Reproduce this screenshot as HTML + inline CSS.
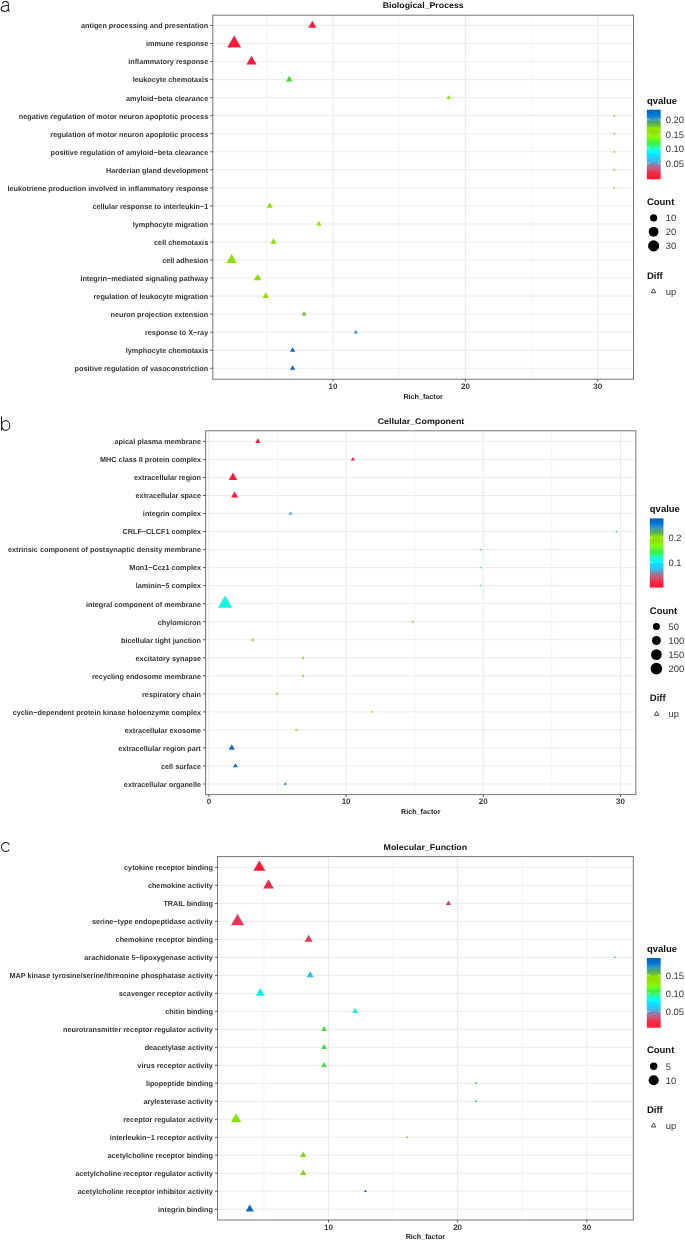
<!DOCTYPE html>
<html><head><meta charset="utf-8"><style>
html,body{margin:0;padding:0;background:#fff;}
body{width:685px;height:1241px;overflow:hidden;}
svg{display:block;will-change:transform;}
text{font-family:"Liberation Sans", sans-serif;text-rendering:geometricPrecision;}
.yl{font-size:7.27px;font-weight:bold;fill:#333;}
.xl{font-size:8.0px;font-weight:bold;fill:#3a3a3a;}
.rf{font-size:7.2px;font-weight:bold;fill:#222;}
.ti{font-size:8.2px;font-weight:bold;fill:#111;}
.let{font-size:20px;fill:#111;stroke:#fff;stroke-width:0.35px;}
.lt{font-size:9.5px;font-weight:bold;fill:#111;}
.ll{font-size:9.4px;fill:#333;}
</style></head><body>
<svg width="685" height="1241" viewBox="0 0 685 1241">
<rect width="685" height="1241" fill="#fff"/>
<defs>
<linearGradient id="qg" x1="0" y1="0" x2="0" y2="1"><stop offset="0.0" stop-color="#0060b0"/><stop offset="0.08" stop-color="#0078e0"/><stop offset="0.12" stop-color="#2890c8"/><stop offset="0.15" stop-color="#40a0a0"/><stop offset="0.19" stop-color="#50a860"/><stop offset="0.235" stop-color="#70c830"/><stop offset="0.26" stop-color="#90e800"/><stop offset="0.32" stop-color="#90e000"/><stop offset="0.4" stop-color="#80ff10"/><stop offset="0.45" stop-color="#50f830"/><stop offset="0.48" stop-color="#40f040"/><stop offset="0.52" stop-color="#30f880"/><stop offset="0.56" stop-color="#20ffc0"/><stop offset="0.61" stop-color="#00ffff"/><stop offset="0.65" stop-color="#10e0ff"/><stop offset="0.69" stop-color="#20d0ff"/><stop offset="0.74" stop-color="#40b8f0"/><stop offset="0.77" stop-color="#6a98c0"/><stop offset="0.79" stop-color="#8880a8"/><stop offset="0.84" stop-color="#c06080"/><stop offset="0.88" stop-color="#e04060"/><stop offset="0.92" stop-color="#f82840"/><stop offset="0.97" stop-color="#ff1a38"/><stop offset="1.0" stop-color="#ff1a38"/></linearGradient>
</defs>
<line x1="266.88" y1="15.2" x2="266.88" y2="379.2" stroke="#f3f3f3" stroke-width="0.9"/>
<line x1="399.22" y1="15.2" x2="399.22" y2="379.2" stroke="#f3f3f3" stroke-width="0.9"/>
<line x1="531.58" y1="15.2" x2="531.58" y2="379.2" stroke="#f3f3f3" stroke-width="0.9"/>
<line x1="333.05" y1="15.2" x2="333.05" y2="379.2" stroke="#ebebeb" stroke-width="1"/>
<line x1="465.40" y1="15.2" x2="465.40" y2="379.2" stroke="#ebebeb" stroke-width="1"/>
<line x1="597.75" y1="15.2" x2="597.75" y2="379.2" stroke="#ebebeb" stroke-width="1"/>
<line x1="212.8" y1="25.50" x2="633.5" y2="25.50" stroke="#ebebeb" stroke-width="1"/>
<line x1="212.8" y1="43.54" x2="633.5" y2="43.54" stroke="#ebebeb" stroke-width="1"/>
<line x1="212.8" y1="61.58" x2="633.5" y2="61.58" stroke="#ebebeb" stroke-width="1"/>
<line x1="212.8" y1="79.62" x2="633.5" y2="79.62" stroke="#ebebeb" stroke-width="1"/>
<line x1="212.8" y1="97.66" x2="633.5" y2="97.66" stroke="#ebebeb" stroke-width="1"/>
<line x1="212.8" y1="115.70" x2="633.5" y2="115.70" stroke="#ebebeb" stroke-width="1"/>
<line x1="212.8" y1="133.74" x2="633.5" y2="133.74" stroke="#ebebeb" stroke-width="1"/>
<line x1="212.8" y1="151.78" x2="633.5" y2="151.78" stroke="#ebebeb" stroke-width="1"/>
<line x1="212.8" y1="169.82" x2="633.5" y2="169.82" stroke="#ebebeb" stroke-width="1"/>
<line x1="212.8" y1="187.86" x2="633.5" y2="187.86" stroke="#ebebeb" stroke-width="1"/>
<line x1="212.8" y1="205.90" x2="633.5" y2="205.90" stroke="#ebebeb" stroke-width="1"/>
<line x1="212.8" y1="223.94" x2="633.5" y2="223.94" stroke="#ebebeb" stroke-width="1"/>
<line x1="212.8" y1="241.98" x2="633.5" y2="241.98" stroke="#ebebeb" stroke-width="1"/>
<line x1="212.8" y1="260.02" x2="633.5" y2="260.02" stroke="#ebebeb" stroke-width="1"/>
<line x1="212.8" y1="278.06" x2="633.5" y2="278.06" stroke="#ebebeb" stroke-width="1"/>
<line x1="212.8" y1="296.10" x2="633.5" y2="296.10" stroke="#ebebeb" stroke-width="1"/>
<line x1="212.8" y1="314.14" x2="633.5" y2="314.14" stroke="#ebebeb" stroke-width="1"/>
<line x1="212.8" y1="332.18" x2="633.5" y2="332.18" stroke="#ebebeb" stroke-width="1"/>
<line x1="212.8" y1="350.22" x2="633.5" y2="350.22" stroke="#ebebeb" stroke-width="1"/>
<line x1="212.8" y1="368.26" x2="633.5" y2="368.26" stroke="#ebebeb" stroke-width="1"/>
<polygon points="312.40,20.77 316.50,27.87 308.30,27.87" fill="#ff1a3a"/>
<polygon points="234.20,35.51 241.15,47.55 227.25,47.55" fill="#ff1a3a"/>
<polygon points="251.50,55.69 256.60,64.52 246.40,64.52" fill="#ff1a3a"/>
<polygon points="289.30,75.81 292.60,81.53 286.00,81.53" fill="#3ddc3d"/>
<polygon points="448.80,95.12 451.00,98.93 446.60,98.93" fill="#7ff000"/>
<polygon points="614.30,114.20 615.60,116.45 613.00,116.45" fill="#8cd820"/>
<polygon points="614.30,132.24 615.60,134.49 613.00,134.49" fill="#8cd820"/>
<polygon points="614.30,150.28 615.60,152.53 613.00,152.53" fill="#8cd820"/>
<polygon points="614.30,168.32 615.60,170.57 613.00,170.57" fill="#8cd820"/>
<polygon points="614.30,186.36 615.60,188.61 613.00,188.61" fill="#8cd820"/>
<polygon points="269.70,202.38 272.75,207.66 266.65,207.66" fill="#8fe000"/>
<polygon points="318.90,220.88 321.55,225.47 316.25,225.47" fill="#8fe000"/>
<polygon points="273.50,238.34 276.65,243.80 270.35,243.80" fill="#8fe000"/>
<polygon points="231.70,254.07 236.85,262.99 226.55,262.99" fill="#90e000"/>
<polygon points="257.60,273.73 261.35,280.23 253.85,280.23" fill="#8fe000"/>
<polygon points="265.80,292.46 268.95,297.92 262.65,297.92" fill="#8fe000"/>
<polygon points="304.10,311.20 306.65,315.61 301.55,315.61" fill="#6cc830"/>
<polygon points="355.80,329.64 358.00,333.45 353.60,333.45" fill="#40a0a0"/>
<polygon points="292.60,347.16 295.25,351.75 289.95,351.75" fill="#1068c0"/>
<polygon points="292.60,365.20 295.25,369.79 289.95,369.79" fill="#1068c0"/>
<rect x="212.8" y="15.2" width="420.70" height="364.00" fill="none" stroke="#767676" stroke-width="1"/>
<line x1="210.20" y1="25.50" x2="212.8" y2="25.50" stroke="#333" stroke-width="0.8"/>
<text x="208.20" y="28.35" text-anchor="end" class="yl">antigen processing and presentation</text>
<line x1="210.20" y1="43.54" x2="212.8" y2="43.54" stroke="#333" stroke-width="0.8"/>
<text x="208.20" y="46.39" text-anchor="end" class="yl">immune response</text>
<line x1="210.20" y1="61.58" x2="212.8" y2="61.58" stroke="#333" stroke-width="0.8"/>
<text x="208.20" y="64.43" text-anchor="end" class="yl">inflammatory response</text>
<line x1="210.20" y1="79.62" x2="212.8" y2="79.62" stroke="#333" stroke-width="0.8"/>
<text x="208.20" y="82.47" text-anchor="end" class="yl">leukocyte chemotaxis</text>
<line x1="210.20" y1="97.66" x2="212.8" y2="97.66" stroke="#333" stroke-width="0.8"/>
<text x="208.20" y="100.51" text-anchor="end" class="yl">amyloid−beta clearance</text>
<line x1="210.20" y1="115.70" x2="212.8" y2="115.70" stroke="#333" stroke-width="0.8"/>
<text x="208.20" y="118.55" text-anchor="end" class="yl">negative regulation of motor neuron apoptotic process</text>
<line x1="210.20" y1="133.74" x2="212.8" y2="133.74" stroke="#333" stroke-width="0.8"/>
<text x="208.20" y="136.59" text-anchor="end" class="yl">regulation of motor neuron apoptotic process</text>
<line x1="210.20" y1="151.78" x2="212.8" y2="151.78" stroke="#333" stroke-width="0.8"/>
<text x="208.20" y="154.63" text-anchor="end" class="yl">positive regulation of amyloid−beta clearance</text>
<line x1="210.20" y1="169.82" x2="212.8" y2="169.82" stroke="#333" stroke-width="0.8"/>
<text x="208.20" y="172.67" text-anchor="end" class="yl">Harderian gland development</text>
<line x1="210.20" y1="187.86" x2="212.8" y2="187.86" stroke="#333" stroke-width="0.8"/>
<text x="208.20" y="190.71" text-anchor="end" class="yl">leukotriene production involved in inflammatory response</text>
<line x1="210.20" y1="205.90" x2="212.8" y2="205.90" stroke="#333" stroke-width="0.8"/>
<text x="208.20" y="208.75" text-anchor="end" class="yl">cellular response to interleukin−1</text>
<line x1="210.20" y1="223.94" x2="212.8" y2="223.94" stroke="#333" stroke-width="0.8"/>
<text x="208.20" y="226.79" text-anchor="end" class="yl">lymphocyte migration</text>
<line x1="210.20" y1="241.98" x2="212.8" y2="241.98" stroke="#333" stroke-width="0.8"/>
<text x="208.20" y="244.83" text-anchor="end" class="yl">cell chemotaxis</text>
<line x1="210.20" y1="260.02" x2="212.8" y2="260.02" stroke="#333" stroke-width="0.8"/>
<text x="208.20" y="262.87" text-anchor="end" class="yl">cell adhesion</text>
<line x1="210.20" y1="278.06" x2="212.8" y2="278.06" stroke="#333" stroke-width="0.8"/>
<text x="208.20" y="280.91" text-anchor="end" class="yl">integrin−mediated signaling pathway</text>
<line x1="210.20" y1="296.10" x2="212.8" y2="296.10" stroke="#333" stroke-width="0.8"/>
<text x="208.20" y="298.95" text-anchor="end" class="yl">regulation of leukocyte migration</text>
<line x1="210.20" y1="314.14" x2="212.8" y2="314.14" stroke="#333" stroke-width="0.8"/>
<text x="208.20" y="316.99" text-anchor="end" class="yl">neuron projection extension</text>
<line x1="210.20" y1="332.18" x2="212.8" y2="332.18" stroke="#333" stroke-width="0.8"/>
<text x="208.20" y="335.03" text-anchor="end" class="yl">response to X−ray</text>
<line x1="210.20" y1="350.22" x2="212.8" y2="350.22" stroke="#333" stroke-width="0.8"/>
<text x="208.20" y="353.07" text-anchor="end" class="yl">lymphocyte chemotaxis</text>
<line x1="210.20" y1="368.26" x2="212.8" y2="368.26" stroke="#333" stroke-width="0.8"/>
<text x="208.20" y="371.11" text-anchor="end" class="yl">positive regulation of vasoconstriction</text>
<line x1="333.05" y1="379.2" x2="333.05" y2="381.60" stroke="#333" stroke-width="0.8"/>
<text x="333.05" y="388.8" text-anchor="middle" class="xl">10</text>
<line x1="465.40" y1="379.2" x2="465.40" y2="381.60" stroke="#333" stroke-width="0.8"/>
<text x="465.40" y="388.8" text-anchor="middle" class="xl">20</text>
<line x1="597.75" y1="379.2" x2="597.75" y2="381.60" stroke="#333" stroke-width="0.8"/>
<text x="597.75" y="388.8" text-anchor="middle" class="xl">30</text>
<text x="423.15" y="398.8" text-anchor="middle" class="rf">Rich_factor</text>
<text x="382.70" y="7.7" textLength="81.0" lengthAdjust="spacingAndGlyphs" class="ti">Biological_Process</text>
<path fill="none" stroke="#1a1a1a" stroke-width="1.05" stroke-linecap="butt" d="M2.2,3.5 C2.8,1.9 4.2,1.4 5.4,1.4 C7.3,1.4 8.35,2.2 8.35,4 L8.35,9.6 C8.35,10.4 8.8,11.1 9.9,11.2 M8.35,5.3 C6.5,5.9 4.2,5.8 2.8,6.4 C1.6,6.9 1.1,7.7 1.1,8.7 C1.1,10.3 2.5,11.3 4.3,11.3 C6.5,11.3 8.35,10.1 8.35,8.2"/>
<text x="646.9" y="103.6" class="lt">qvalue</text>
<rect x="646.9" y="109.7" width="13.80" height="69.60" fill="url(#qg)"/>
<line x1="646.9" y1="119.8" x2="649.70" y2="119.8" stroke="#fff" stroke-width="0.6" stroke-opacity="0.8"/>
<line x1="657.90" y1="119.8" x2="660.7" y2="119.8" stroke="#fff" stroke-width="0.6" stroke-opacity="0.8"/>
<text x="665.7" y="123.20" class="ll">0.20</text>
<line x1="646.9" y1="134.2" x2="649.70" y2="134.2" stroke="#fff" stroke-width="0.6" stroke-opacity="0.8"/>
<line x1="657.90" y1="134.2" x2="660.7" y2="134.2" stroke="#fff" stroke-width="0.6" stroke-opacity="0.8"/>
<text x="665.7" y="137.60" class="ll">0.15</text>
<line x1="646.9" y1="148.5" x2="649.70" y2="148.5" stroke="#fff" stroke-width="0.6" stroke-opacity="0.8"/>
<line x1="657.90" y1="148.5" x2="660.7" y2="148.5" stroke="#fff" stroke-width="0.6" stroke-opacity="0.8"/>
<text x="665.7" y="151.90" class="ll">0.10</text>
<line x1="646.9" y1="163.4" x2="649.70" y2="163.4" stroke="#fff" stroke-width="0.6" stroke-opacity="0.8"/>
<line x1="657.90" y1="163.4" x2="660.7" y2="163.4" stroke="#fff" stroke-width="0.6" stroke-opacity="0.8"/>
<text x="665.7" y="166.80" class="ll">0.05</text>
<text x="646.9" y="204.6" class="lt">Count</text>
<circle cx="653.6" cy="217.9" r="3.55" fill="#000"/>
<text x="665.7" y="221.30" class="ll">10</text>
<circle cx="653.6" cy="231.8" r="4.90" fill="#000"/>
<text x="665.7" y="235.20" class="ll">20</text>
<circle cx="653.6" cy="245.9" r="5.55" fill="#000"/>
<text x="665.7" y="249.30" class="ll">30</text>
<text x="646.9" y="278.7" class="lt">Diff</text>
<polygon points="653.60,288.80 655.85,292.70 651.35,292.70" fill="none" stroke="#111" stroke-width="0.75"/>
<text x="665.7" y="294.60" class="ll">up</text>
<line x1="277.50" y1="430.8" x2="277.50" y2="794.6" stroke="#f3f3f3" stroke-width="0.9"/>
<line x1="414.70" y1="430.8" x2="414.70" y2="794.6" stroke="#f3f3f3" stroke-width="0.9"/>
<line x1="551.90" y1="430.8" x2="551.90" y2="794.6" stroke="#f3f3f3" stroke-width="0.9"/>
<line x1="208.90" y1="430.8" x2="208.90" y2="794.6" stroke="#ebebeb" stroke-width="1"/>
<line x1="346.10" y1="430.8" x2="346.10" y2="794.6" stroke="#ebebeb" stroke-width="1"/>
<line x1="483.30" y1="430.8" x2="483.30" y2="794.6" stroke="#ebebeb" stroke-width="1"/>
<line x1="620.50" y1="430.8" x2="620.50" y2="794.6" stroke="#ebebeb" stroke-width="1"/>
<line x1="205.6" y1="441.40" x2="635.9" y2="441.40" stroke="#ebebeb" stroke-width="1"/>
<line x1="205.6" y1="459.43" x2="635.9" y2="459.43" stroke="#ebebeb" stroke-width="1"/>
<line x1="205.6" y1="477.46" x2="635.9" y2="477.46" stroke="#ebebeb" stroke-width="1"/>
<line x1="205.6" y1="495.49" x2="635.9" y2="495.49" stroke="#ebebeb" stroke-width="1"/>
<line x1="205.6" y1="513.52" x2="635.9" y2="513.52" stroke="#ebebeb" stroke-width="1"/>
<line x1="205.6" y1="531.55" x2="635.9" y2="531.55" stroke="#ebebeb" stroke-width="1"/>
<line x1="205.6" y1="549.58" x2="635.9" y2="549.58" stroke="#ebebeb" stroke-width="1"/>
<line x1="205.6" y1="567.61" x2="635.9" y2="567.61" stroke="#ebebeb" stroke-width="1"/>
<line x1="205.6" y1="585.64" x2="635.9" y2="585.64" stroke="#ebebeb" stroke-width="1"/>
<line x1="205.6" y1="603.67" x2="635.9" y2="603.67" stroke="#ebebeb" stroke-width="1"/>
<line x1="205.6" y1="621.70" x2="635.9" y2="621.70" stroke="#ebebeb" stroke-width="1"/>
<line x1="205.6" y1="639.73" x2="635.9" y2="639.73" stroke="#ebebeb" stroke-width="1"/>
<line x1="205.6" y1="657.76" x2="635.9" y2="657.76" stroke="#ebebeb" stroke-width="1"/>
<line x1="205.6" y1="675.79" x2="635.9" y2="675.79" stroke="#ebebeb" stroke-width="1"/>
<line x1="205.6" y1="693.82" x2="635.9" y2="693.82" stroke="#ebebeb" stroke-width="1"/>
<line x1="205.6" y1="711.85" x2="635.9" y2="711.85" stroke="#ebebeb" stroke-width="1"/>
<line x1="205.6" y1="729.88" x2="635.9" y2="729.88" stroke="#ebebeb" stroke-width="1"/>
<line x1="205.6" y1="747.91" x2="635.9" y2="747.91" stroke="#ebebeb" stroke-width="1"/>
<line x1="205.6" y1="765.94" x2="635.9" y2="765.94" stroke="#ebebeb" stroke-width="1"/>
<line x1="205.6" y1="783.97" x2="635.9" y2="783.97" stroke="#ebebeb" stroke-width="1"/>
<polygon points="257.90,438.34 260.55,442.93 255.25,442.93" fill="#ff1a3a"/>
<polygon points="352.90,457.06 354.95,460.61 350.85,460.61" fill="#ff1a3a"/>
<polygon points="233.00,472.61 237.20,479.88 228.80,479.88" fill="#ff1a3a"/>
<polygon points="234.60,491.45 238.10,497.51 231.10,497.51" fill="#ff1a3a"/>
<polygon points="290.50,511.27 292.45,514.65 288.55,514.65" fill="#40b0e0"/>
<polygon points="616.50,530.16 617.70,532.24 615.30,532.24" fill="#30b8f0"/>
<polygon points="480.90,548.25 482.05,550.24 479.75,550.24" fill="#20e8d0"/>
<polygon points="480.90,566.28 482.05,568.27 479.75,568.27" fill="#20e8d0"/>
<polygon points="480.90,584.31 482.05,586.30 479.75,586.30" fill="#20e8d0"/>
<polygon points="225.20,595.53 232.25,607.74 218.15,607.74" fill="#10f8e0"/>
<polygon points="412.80,620.31 414.00,622.39 411.60,622.39" fill="#80d830"/>
<polygon points="252.80,637.71 254.55,640.74 251.05,640.74" fill="#8cd820"/>
<polygon points="303.10,656.03 304.60,658.63 301.60,658.63" fill="#8cd820"/>
<polygon points="303.10,674.06 304.60,676.66 301.60,676.66" fill="#8cd820"/>
<polygon points="277.00,692.09 278.50,694.69 275.50,694.69" fill="#8cd820"/>
<polygon points="372.10,710.46 373.30,712.54 370.90,712.54" fill="#8cd820"/>
<polygon points="296.30,728.15 297.80,730.75 294.80,730.75" fill="#8cd820"/>
<polygon points="231.80,744.33 234.90,749.70 228.70,749.70" fill="#1068c0"/>
<polygon points="235.40,763.17 237.80,767.33 233.00,767.33" fill="#1068c0"/>
<polygon points="285.30,782.30 286.75,784.81 283.85,784.81" fill="#1068c0"/>
<rect x="205.6" y="430.8" width="430.30" height="363.80" fill="none" stroke="#767676" stroke-width="1"/>
<line x1="203.00" y1="441.40" x2="205.6" y2="441.40" stroke="#333" stroke-width="0.8"/>
<text x="201.00" y="444.25" text-anchor="end" class="yl">apical plasma membrane</text>
<line x1="203.00" y1="459.43" x2="205.6" y2="459.43" stroke="#333" stroke-width="0.8"/>
<text x="201.00" y="462.28" text-anchor="end" class="yl">MHC class II protein complex</text>
<line x1="203.00" y1="477.46" x2="205.6" y2="477.46" stroke="#333" stroke-width="0.8"/>
<text x="201.00" y="480.31" text-anchor="end" class="yl">extracellular region</text>
<line x1="203.00" y1="495.49" x2="205.6" y2="495.49" stroke="#333" stroke-width="0.8"/>
<text x="201.00" y="498.34" text-anchor="end" class="yl">extracellular space</text>
<line x1="203.00" y1="513.52" x2="205.6" y2="513.52" stroke="#333" stroke-width="0.8"/>
<text x="201.00" y="516.37" text-anchor="end" class="yl">integrin complex</text>
<line x1="203.00" y1="531.55" x2="205.6" y2="531.55" stroke="#333" stroke-width="0.8"/>
<text x="201.00" y="534.40" text-anchor="end" class="yl">CRLF−CLCF1 complex</text>
<line x1="203.00" y1="549.58" x2="205.6" y2="549.58" stroke="#333" stroke-width="0.8"/>
<text x="201.00" y="552.43" text-anchor="end" class="yl">extrinsic component of postsynaptic density membrane</text>
<line x1="203.00" y1="567.61" x2="205.6" y2="567.61" stroke="#333" stroke-width="0.8"/>
<text x="201.00" y="570.46" text-anchor="end" class="yl">Mon1−Ccz1 complex</text>
<line x1="203.00" y1="585.64" x2="205.6" y2="585.64" stroke="#333" stroke-width="0.8"/>
<text x="201.00" y="588.49" text-anchor="end" class="yl">laminin−5 complex</text>
<line x1="203.00" y1="603.67" x2="205.6" y2="603.67" stroke="#333" stroke-width="0.8"/>
<text x="201.00" y="606.52" text-anchor="end" class="yl">integral component of membrane</text>
<line x1="203.00" y1="621.70" x2="205.6" y2="621.70" stroke="#333" stroke-width="0.8"/>
<text x="201.00" y="624.55" text-anchor="end" class="yl">chylomicron</text>
<line x1="203.00" y1="639.73" x2="205.6" y2="639.73" stroke="#333" stroke-width="0.8"/>
<text x="201.00" y="642.58" text-anchor="end" class="yl">bicellular tight junction</text>
<line x1="203.00" y1="657.76" x2="205.6" y2="657.76" stroke="#333" stroke-width="0.8"/>
<text x="201.00" y="660.61" text-anchor="end" class="yl">excitatory synapse</text>
<line x1="203.00" y1="675.79" x2="205.6" y2="675.79" stroke="#333" stroke-width="0.8"/>
<text x="201.00" y="678.64" text-anchor="end" class="yl">recycling endosome membrane</text>
<line x1="203.00" y1="693.82" x2="205.6" y2="693.82" stroke="#333" stroke-width="0.8"/>
<text x="201.00" y="696.67" text-anchor="end" class="yl">respiratory chain</text>
<line x1="203.00" y1="711.85" x2="205.6" y2="711.85" stroke="#333" stroke-width="0.8"/>
<text x="201.00" y="714.70" text-anchor="end" class="yl">cyclin−dependent protein kinase holoenzyme complex</text>
<line x1="203.00" y1="729.88" x2="205.6" y2="729.88" stroke="#333" stroke-width="0.8"/>
<text x="201.00" y="732.73" text-anchor="end" class="yl">extracellular exosome</text>
<line x1="203.00" y1="747.91" x2="205.6" y2="747.91" stroke="#333" stroke-width="0.8"/>
<text x="201.00" y="750.76" text-anchor="end" class="yl">extracellular region part</text>
<line x1="203.00" y1="765.94" x2="205.6" y2="765.94" stroke="#333" stroke-width="0.8"/>
<text x="201.00" y="768.79" text-anchor="end" class="yl">cell surface</text>
<line x1="203.00" y1="783.97" x2="205.6" y2="783.97" stroke="#333" stroke-width="0.8"/>
<text x="201.00" y="786.82" text-anchor="end" class="yl">extracellular organelle</text>
<line x1="208.90" y1="794.6" x2="208.90" y2="797.00" stroke="#333" stroke-width="0.8"/>
<text x="208.90" y="804.3" text-anchor="middle" class="xl">0</text>
<line x1="346.10" y1="794.6" x2="346.10" y2="797.00" stroke="#333" stroke-width="0.8"/>
<text x="346.10" y="804.3" text-anchor="middle" class="xl">10</text>
<line x1="483.30" y1="794.6" x2="483.30" y2="797.00" stroke="#333" stroke-width="0.8"/>
<text x="483.30" y="804.3" text-anchor="middle" class="xl">20</text>
<line x1="620.50" y1="794.6" x2="620.50" y2="797.00" stroke="#333" stroke-width="0.8"/>
<text x="620.50" y="804.3" text-anchor="middle" class="xl">30</text>
<text x="420.75" y="814.2" text-anchor="middle" class="rf">Rich_factor</text>
<text x="377.65" y="424.0" textLength="86.7" lengthAdjust="spacingAndGlyphs" class="ti">Cellular_Component</text>
<path fill="none" stroke="#1a1a1a" stroke-width="1.05" stroke-linecap="butt" d="M1.55,416.3 V430.8"/><ellipse cx="5.7" cy="425.45" rx="4.1" ry="4.85" fill="none" stroke="#1a1a1a" stroke-width="1.05"/>
<text x="649.8" y="512.3" class="lt">qvalue</text>
<rect x="649.8" y="518.4" width="13.70" height="69.20" fill="url(#qg)"/>
<line x1="649.8" y1="537.8" x2="652.60" y2="537.8" stroke="#fff" stroke-width="0.6" stroke-opacity="0.8"/>
<line x1="660.70" y1="537.8" x2="663.5" y2="537.8" stroke="#fff" stroke-width="0.6" stroke-opacity="0.8"/>
<text x="668.5" y="541.20" class="ll">0.2</text>
<line x1="649.8" y1="562.4" x2="652.60" y2="562.4" stroke="#fff" stroke-width="0.6" stroke-opacity="0.8"/>
<line x1="660.70" y1="562.4" x2="663.5" y2="562.4" stroke="#fff" stroke-width="0.6" stroke-opacity="0.8"/>
<text x="668.5" y="565.80" class="ll">0.1</text>
<text x="649.8" y="613.8" class="lt">Count</text>
<circle cx="656.4" cy="626.5" r="3.50" fill="#000"/>
<text x="668.5" y="629.90" class="ll">50</text>
<circle cx="656.4" cy="640.5" r="4.45" fill="#000"/>
<text x="668.5" y="643.90" class="ll">100</text>
<circle cx="656.4" cy="654.6" r="5.35" fill="#000"/>
<text x="668.5" y="658.00" class="ll">150</text>
<circle cx="656.4" cy="668.6" r="5.80" fill="#000"/>
<text x="668.5" y="672.00" class="ll">200</text>
<text x="649.8" y="700.8" class="lt">Diff</text>
<polygon points="656.50,711.40 658.75,715.30 654.25,715.30" fill="none" stroke="#111" stroke-width="0.75"/>
<text x="668.5" y="717.20" class="ll">up</text>
<line x1="263.95" y1="856.6" x2="263.95" y2="1220.0" stroke="#f3f3f3" stroke-width="0.9"/>
<line x1="393.05" y1="856.6" x2="393.05" y2="1220.0" stroke="#f3f3f3" stroke-width="0.9"/>
<line x1="522.15" y1="856.6" x2="522.15" y2="1220.0" stroke="#f3f3f3" stroke-width="0.9"/>
<line x1="328.50" y1="856.6" x2="328.50" y2="1220.0" stroke="#ebebeb" stroke-width="1"/>
<line x1="457.60" y1="856.6" x2="457.60" y2="1220.0" stroke="#ebebeb" stroke-width="1"/>
<line x1="586.70" y1="856.6" x2="586.70" y2="1220.0" stroke="#ebebeb" stroke-width="1"/>
<line x1="217.5" y1="867.40" x2="633.3" y2="867.40" stroke="#ebebeb" stroke-width="1"/>
<line x1="217.5" y1="885.39" x2="633.3" y2="885.39" stroke="#ebebeb" stroke-width="1"/>
<line x1="217.5" y1="903.38" x2="633.3" y2="903.38" stroke="#ebebeb" stroke-width="1"/>
<line x1="217.5" y1="921.37" x2="633.3" y2="921.37" stroke="#ebebeb" stroke-width="1"/>
<line x1="217.5" y1="939.36" x2="633.3" y2="939.36" stroke="#ebebeb" stroke-width="1"/>
<line x1="217.5" y1="957.35" x2="633.3" y2="957.35" stroke="#ebebeb" stroke-width="1"/>
<line x1="217.5" y1="975.34" x2="633.3" y2="975.34" stroke="#ebebeb" stroke-width="1"/>
<line x1="217.5" y1="993.33" x2="633.3" y2="993.33" stroke="#ebebeb" stroke-width="1"/>
<line x1="217.5" y1="1011.32" x2="633.3" y2="1011.32" stroke="#ebebeb" stroke-width="1"/>
<line x1="217.5" y1="1029.31" x2="633.3" y2="1029.31" stroke="#ebebeb" stroke-width="1"/>
<line x1="217.5" y1="1047.30" x2="633.3" y2="1047.30" stroke="#ebebeb" stroke-width="1"/>
<line x1="217.5" y1="1065.29" x2="633.3" y2="1065.29" stroke="#ebebeb" stroke-width="1"/>
<line x1="217.5" y1="1083.28" x2="633.3" y2="1083.28" stroke="#ebebeb" stroke-width="1"/>
<line x1="217.5" y1="1101.27" x2="633.3" y2="1101.27" stroke="#ebebeb" stroke-width="1"/>
<line x1="217.5" y1="1119.26" x2="633.3" y2="1119.26" stroke="#ebebeb" stroke-width="1"/>
<line x1="217.5" y1="1137.25" x2="633.3" y2="1137.25" stroke="#ebebeb" stroke-width="1"/>
<line x1="217.5" y1="1155.24" x2="633.3" y2="1155.24" stroke="#ebebeb" stroke-width="1"/>
<line x1="217.5" y1="1173.23" x2="633.3" y2="1173.23" stroke="#ebebeb" stroke-width="1"/>
<line x1="217.5" y1="1191.22" x2="633.3" y2="1191.22" stroke="#ebebeb" stroke-width="1"/>
<line x1="217.5" y1="1209.21" x2="633.3" y2="1209.21" stroke="#ebebeb" stroke-width="1"/>
<polygon points="259.40,860.47 265.40,870.86 253.40,870.86" fill="#ff1a3a"/>
<polygon points="268.50,879.33 273.75,888.42 263.25,888.42" fill="#f0284a"/>
<polygon points="448.50,900.38 451.10,904.88 445.90,904.88" fill="#e8305a"/>
<polygon points="237.60,913.81 244.15,925.15 231.05,925.15" fill="#ee3558"/>
<polygon points="308.60,934.68 312.65,941.70 304.55,941.70" fill="#e8385a"/>
<polygon points="614.70,955.91 615.95,958.07 613.45,958.07" fill="#20c8f0"/>
<polygon points="310.20,971.30 313.70,977.36 306.70,977.36" fill="#20c0f0"/>
<polygon points="260.30,988.25 264.70,995.87 255.90,995.87" fill="#00f0f0"/>
<polygon points="355.20,1007.97 358.10,1012.99 352.30,1012.99" fill="#10f0e0"/>
<polygon points="324.10,1026.08 326.90,1030.93 321.30,1030.93" fill="#40e040"/>
<polygon points="324.10,1044.07 326.90,1048.92 321.30,1048.92" fill="#40e040"/>
<polygon points="324.10,1062.06 326.90,1066.91 321.30,1066.91" fill="#40e040"/>
<polygon points="476.20,1081.78 477.50,1084.03 474.90,1084.03" fill="#30d050"/>
<polygon points="476.20,1099.77 477.50,1102.02 474.90,1102.02" fill="#30d050"/>
<polygon points="236.10,1113.20 241.35,1122.29 230.85,1122.29" fill="#8ce010"/>
<polygon points="407.00,1135.86 408.20,1137.94 405.80,1137.94" fill="#8cd820"/>
<polygon points="303.20,1151.54 306.40,1157.09 300.00,1157.09" fill="#80d820"/>
<polygon points="303.20,1169.53 306.40,1175.08 300.00,1175.08" fill="#80d820"/>
<polygon points="365.50,1189.60 366.90,1192.03 364.10,1192.03" fill="#1060c8"/>
<polygon points="249.80,1204.48 253.90,1211.58 245.70,1211.58" fill="#1068c0"/>
<rect x="217.5" y="856.6" width="415.80" height="363.40" fill="none" stroke="#767676" stroke-width="1"/>
<line x1="214.90" y1="867.40" x2="217.5" y2="867.40" stroke="#333" stroke-width="0.8"/>
<text x="212.90" y="870.25" text-anchor="end" class="yl">cytokine receptor binding</text>
<line x1="214.90" y1="885.39" x2="217.5" y2="885.39" stroke="#333" stroke-width="0.8"/>
<text x="212.90" y="888.24" text-anchor="end" class="yl">chemokine activity</text>
<line x1="214.90" y1="903.38" x2="217.5" y2="903.38" stroke="#333" stroke-width="0.8"/>
<text x="212.90" y="906.23" text-anchor="end" class="yl">TRAIL binding</text>
<line x1="214.90" y1="921.37" x2="217.5" y2="921.37" stroke="#333" stroke-width="0.8"/>
<text x="212.90" y="924.22" text-anchor="end" class="yl">serine−type endopeptidase activity</text>
<line x1="214.90" y1="939.36" x2="217.5" y2="939.36" stroke="#333" stroke-width="0.8"/>
<text x="212.90" y="942.21" text-anchor="end" class="yl">chemokine receptor binding</text>
<line x1="214.90" y1="957.35" x2="217.5" y2="957.35" stroke="#333" stroke-width="0.8"/>
<text x="212.90" y="960.20" text-anchor="end" class="yl">arachidonate 5−lipoxygenase activity</text>
<line x1="214.90" y1="975.34" x2="217.5" y2="975.34" stroke="#333" stroke-width="0.8"/>
<text x="212.90" y="978.19" text-anchor="end" class="yl">MAP kinase tyrosine/serine/threonine phosphatase activity</text>
<line x1="214.90" y1="993.33" x2="217.5" y2="993.33" stroke="#333" stroke-width="0.8"/>
<text x="212.90" y="996.18" text-anchor="end" class="yl">scavenger receptor activity</text>
<line x1="214.90" y1="1011.32" x2="217.5" y2="1011.32" stroke="#333" stroke-width="0.8"/>
<text x="212.90" y="1014.17" text-anchor="end" class="yl">chitin binding</text>
<line x1="214.90" y1="1029.31" x2="217.5" y2="1029.31" stroke="#333" stroke-width="0.8"/>
<text x="212.90" y="1032.16" text-anchor="end" class="yl">neurotransmitter receptor regulator activity</text>
<line x1="214.90" y1="1047.30" x2="217.5" y2="1047.30" stroke="#333" stroke-width="0.8"/>
<text x="212.90" y="1050.15" text-anchor="end" class="yl">deacetylase activity</text>
<line x1="214.90" y1="1065.29" x2="217.5" y2="1065.29" stroke="#333" stroke-width="0.8"/>
<text x="212.90" y="1068.14" text-anchor="end" class="yl">virus receptor activity</text>
<line x1="214.90" y1="1083.28" x2="217.5" y2="1083.28" stroke="#333" stroke-width="0.8"/>
<text x="212.90" y="1086.13" text-anchor="end" class="yl">lipopeptide binding</text>
<line x1="214.90" y1="1101.27" x2="217.5" y2="1101.27" stroke="#333" stroke-width="0.8"/>
<text x="212.90" y="1104.12" text-anchor="end" class="yl">arylesterase activity</text>
<line x1="214.90" y1="1119.26" x2="217.5" y2="1119.26" stroke="#333" stroke-width="0.8"/>
<text x="212.90" y="1122.11" text-anchor="end" class="yl">receptor regulator activity</text>
<line x1="214.90" y1="1137.25" x2="217.5" y2="1137.25" stroke="#333" stroke-width="0.8"/>
<text x="212.90" y="1140.10" text-anchor="end" class="yl">interleukin−1 receptor activity</text>
<line x1="214.90" y1="1155.24" x2="217.5" y2="1155.24" stroke="#333" stroke-width="0.8"/>
<text x="212.90" y="1158.09" text-anchor="end" class="yl">acetylcholine receptor binding</text>
<line x1="214.90" y1="1173.23" x2="217.5" y2="1173.23" stroke="#333" stroke-width="0.8"/>
<text x="212.90" y="1176.08" text-anchor="end" class="yl">acetylcholine receptor regulator activity</text>
<line x1="214.90" y1="1191.22" x2="217.5" y2="1191.22" stroke="#333" stroke-width="0.8"/>
<text x="212.90" y="1194.07" text-anchor="end" class="yl">acetylcholine receptor inhibitor activity</text>
<line x1="214.90" y1="1209.21" x2="217.5" y2="1209.21" stroke="#333" stroke-width="0.8"/>
<text x="212.90" y="1212.06" text-anchor="end" class="yl">integrin binding</text>
<line x1="328.50" y1="1220.0" x2="328.50" y2="1222.40" stroke="#333" stroke-width="0.8"/>
<text x="328.50" y="1229.7" text-anchor="middle" class="xl">10</text>
<line x1="457.60" y1="1220.0" x2="457.60" y2="1222.40" stroke="#333" stroke-width="0.8"/>
<text x="457.60" y="1229.7" text-anchor="middle" class="xl">20</text>
<line x1="586.70" y1="1220.0" x2="586.70" y2="1222.40" stroke="#333" stroke-width="0.8"/>
<text x="586.70" y="1229.7" text-anchor="middle" class="xl">30</text>
<text x="425.40" y="1239.2" text-anchor="middle" class="rf">Rich_factor</text>
<text x="383.60" y="850.3" textLength="83.6" lengthAdjust="spacingAndGlyphs" class="ti">Molecular_Function</text>
<path fill="none" stroke="#1a1a1a" stroke-width="1.05" stroke-linecap="butt" d="M9.36,844.60 A4.3,4.5 0 1 0 9.36,849.50"/>
<text x="646.9" y="951.5" class="lt">qvalue</text>
<rect x="646.9" y="958.0" width="13.80" height="69.70" fill="url(#qg)"/>
<line x1="646.9" y1="975.4" x2="649.70" y2="975.4" stroke="#fff" stroke-width="0.6" stroke-opacity="0.8"/>
<line x1="657.90" y1="975.4" x2="660.7" y2="975.4" stroke="#fff" stroke-width="0.6" stroke-opacity="0.8"/>
<text x="665.7" y="978.80" class="ll">0.15</text>
<line x1="646.9" y1="993.2" x2="649.70" y2="993.2" stroke="#fff" stroke-width="0.6" stroke-opacity="0.8"/>
<line x1="657.90" y1="993.2" x2="660.7" y2="993.2" stroke="#fff" stroke-width="0.6" stroke-opacity="0.8"/>
<text x="665.7" y="996.60" class="ll">0.10</text>
<line x1="646.9" y1="1011.5" x2="649.70" y2="1011.5" stroke="#fff" stroke-width="0.6" stroke-opacity="0.8"/>
<line x1="657.90" y1="1011.5" x2="660.7" y2="1011.5" stroke="#fff" stroke-width="0.6" stroke-opacity="0.8"/>
<text x="665.7" y="1014.90" class="ll">0.05</text>
<text x="646.9" y="1053.1" class="lt">Count</text>
<circle cx="653.7" cy="1066.2" r="3.70" fill="#000"/>
<text x="665.7" y="1069.60" class="ll">5</text>
<circle cx="653.7" cy="1080.3" r="5.05" fill="#000"/>
<text x="665.7" y="1083.70" class="ll">10</text>
<text x="646.9" y="1112.7" class="lt">Diff</text>
<polygon points="653.70,1123.10 655.95,1127.00 651.45,1127.00" fill="none" stroke="#111" stroke-width="0.75"/>
<text x="665.7" y="1128.90" class="ll">up</text>
</svg>
</body></html>
